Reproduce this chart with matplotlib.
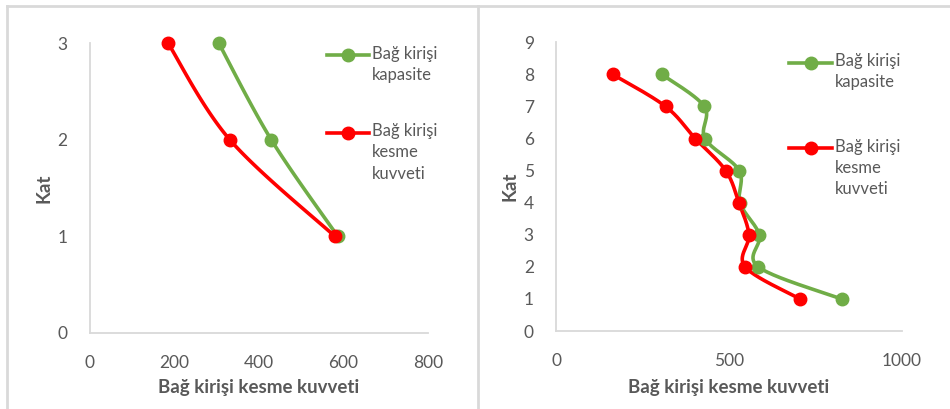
import numpy as np
import matplotlib
matplotlib.use("Agg")
import matplotlib.pyplot as plt
from matplotlib.lines import Line2D

plt.rcParams['font.family'] = ['Lato', 'DejaVu Sans']

# ---- data -------------------------------------------------------------
floors_a = [3, 2, 1]
capacity_a = [306, 430, 587]
shear_a = [186, 332, 580]

floors_b = [8, 7, 6, 5, 4, 3, 2, 1]
capacity_b = [306, 429, 431, 530, 532, 588, 585, 826]
shear_b = [164, 317, 403, 491, 529, 558, 547, 706]

xlabel = "Bağ kirişi kesme kuvveti"
ylabel = "Kat"
label_cap = "Bağ kirişi\nkapasite"
label_shear = "Bağ kirişi\nkesme\nkuvveti"

GREEN = "#70AD47"
RED = "#FF0000"
TEXT = "#595959"
AXIS = "#D9D9D9"

W, H = 950, 409
fig = plt.figure(figsize=(W / 100, H / 100), dpi=100)


def smooth(xs, ys, n=40):
    """Cubic Bezier smoothing through the points (Catmull-Rom style)."""
    p = np.column_stack([xs, ys]).astype(float)
    ext = np.vstack([p[0], p, p[-1]])
    out = []
    t = np.linspace(0, 1, n)[:, None]
    for i in range(len(p) - 1):
        p0, p1, p2, p3 = ext[i], ext[i + 1], ext[i + 2], ext[i + 3]
        c1 = p1 + (p2 - p0) / 6
        c2 = p2 - (p3 - p1) / 6
        seg = ((1 - t) ** 3) * p1 + 3 * ((1 - t) ** 2) * t * c1 \
            + 3 * (1 - t) * t ** 2 * c2 + t ** 3 * p2
        out.append(seg if i == 0 else seg[1:])
    s = np.vstack(out)
    return s[:, 0], s[:, 1]


def px_axes(box):
    """Axes from pixel box (left, top, right, bottom)."""
    x0, y0, x1, y1 = box
    return fig.add_axes([x0 / W, (H - y1) / H, (x1 - x0) / W, (y1 - y0) / H])


def style(ax, xmax, xticks, ymax, box, ylabel_x):
    x0, y0, x1, y1 = box
    ax.set_xlim(0, xmax)
    ax.set_ylim(0, ymax)
    ax.set_xticks(xticks)
    ax.set_yticks(range(0, ymax + 1))
    for s in ("top", "right"):
        ax.spines[s].set_visible(False)
    for s in ("left", "bottom"):
        ax.spines[s].set_color(AXIS)
        ax.spines[s].set_linewidth(1.3)
    ax.tick_params(length=0, labelsize=12.5, labelcolor=TEXT)
    ax.tick_params(axis="y", pad=16)
    ax.tick_params(axis="x", pad=16)
    ax.set_xlabel(xlabel, fontsize=13.5, fontweight="bold", color=TEXT, va="center")
    ax.set_ylabel(ylabel, fontsize=13.5, fontweight="bold", color=TEXT, va="center")
    ax.xaxis.set_label_coords(0.5, (y1 - 388) / (y1 - y0))
    ax.yaxis.set_label_coords((ylabel_x - x0) / (x1 - x0), 0.5)
    ax.patch.set_alpha(0)


def series(ax, xs, ys, color):
    sx, sy = smooth(xs, ys)
    ax.plot(sx, sy, color=color, lw=2.6, solid_capstyle="round", clip_on=False, zorder=3)
    ax.plot(xs, ys, ls="none", marker="o", ms=9, color=color, clip_on=False, zorder=4)


def legend(x0, x1, y_cap, y_shear):
    """Legend keys placed in pixel coordinates of the figure."""
    for y, color, text in ((y_cap, GREEN, label_cap), (y_shear, RED, label_shear)):
        fy = (H - y) / H
        fig.add_artist(Line2D([x0 / W, x1 / W], [fy, fy], color=color, lw=2.6,
                              transform=fig.transFigure))
        fig.add_artist(Line2D([(x0 + x1) / 2 / W], [fy], color=color, marker="o",
                              ms=9, transform=fig.transFigure))
        fig.text((x1 + 3) / W, (H - y + 9.5) / H, text, fontsize=12, color=TEXT,
                 va="top", ha="left", linespacing=1.4)


# panel frames
frame_kw = dict(color=AXIS, lw=2, transform=fig.transFigure)
fig.add_artist(Line2D([6.5 / W, 6.5 / W], [0, (H - 6) / H], **frame_kw))
fig.add_artist(Line2D([6.5 / W, 1], [(H - 6) / H, (H - 6) / H], **frame_kw))
fig.add_artist(Line2D([478.5 / W, 478.5 / W], [0, (H - 6) / H], **frame_kw))

# left chart
box1 = (89.5, 43.3, 427.7, 332.7)
ax1 = px_axes(box1)
style(ax1, 800, [0, 200, 400, 600, 800], 3, box1, 44)
series(ax1, capacity_a, floors_a, GREEN)
series(ax1, shear_a, floors_a, RED)
legend(327, 369, 55, 132.7)

# right chart
box2 = (556, 42.3, 901.7, 331)
ax2 = px_axes(box2)
style(ax2, 1000, [0, 500, 1000], 9, box2, 510)
series(ax2, capacity_b, floors_b, GREEN)
series(ax2, shear_b, floors_b, RED)
legend(789, 832, 62.7, 148.3)

fig.savefig("out.png", dpi=100)
